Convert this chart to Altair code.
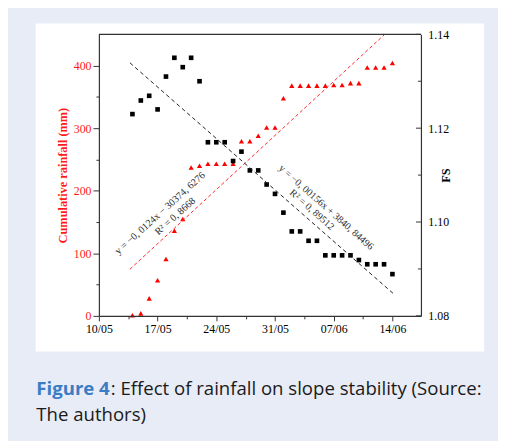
import json
import altair as alt
import numpy as np
import pandas as pd

# ---------------- data ----------------
dates = ["14/05", "15/05", "16/05", "17/05", "18/05", "19/05", "20/05", "21/05",
         "22/05", "23/05", "24/05", "25/05", "26/05", "27/05", "28/05", "29/05",
         "30/05", "31/05", "01/06", "02/06", "03/06", "04/06", "05/06", "06/06",
         "07/06", "08/06", "09/06", "10/06", "11/06", "12/06", "13/06", "14/06"]
rainfall = [1, 4, 28, 57, 91, 136, 155, 237, 240, 243, 243, 243, 243, 279, 279, 288,
            301, 301, 348, 368, 368, 368, 368, 368, 369, 369, 372, 372, 397, 397, 397, 404]
fs = [1.1230, 1.1259, 1.1269, 1.1240, 1.1310, 1.1350, 1.1330, 1.1350, 1.1300, 1.1170,
      1.1170, 1.1170, 1.1130, 1.1150, 1.1110, 1.1110, 1.1080, 1.1060, 1.1020, 1.0980,
      1.0980, 1.0960, 1.0960, 1.0929, 1.0929, 1.0929, 1.0929, 1.0919, 1.0910, 1.0910,
      1.0910, 1.0889]

x_tick_labels = ["10/05", "17/05", "24/05", "31/05", "07/06", "14/06"]
rain_ticks = [0, 50, 100, 150, 200, 250, 300, 350, 400]
fs_major = [1.08, 1.10, 1.12, 1.14]
fs_minor = [1.09, 1.11, 1.13]

red_eq = ["y = \u22120, 0124x \u2212 30374, 6276", "R\u00b2 = 0, 8668"]
red_eq_day = [7.3, 9.1]
red_eq_rain = [164, 159]
black_eq = ["y = \u22120, 00156x + 3840, 84496", "R\u00b2 = 0, 89512"]
black_eq_day = [27.1, 25.4]
black_eq_fs = [1.1031, 1.1026]

caption_bold = "Figure 4"
caption_1 = ": Effect of rainfall on slope stability (Source:"
caption_2 = "The authors)"

# ---------------- derived ----------------
def to_day(s):
    d, m = map(int, s.split("/"))
    return d - 10 if m == 5 else d + 21

days = [to_day(s) for s in dates]
df = pd.DataFrame({"day": days, "rain": rainfall, "fs": fs})

r_slope, r_int = np.polyfit(days, rainfall, 1)
f_slope, f_int = np.polyfit(days, fs, 1)
fit_x = [3.7, 35.3]
red_fit = pd.DataFrame({"day": fit_x, "rain": [r_int + r_slope * v for v in fit_x]})
black_fit = pd.DataFrame({"day": fit_x, "fs": [f_int + f_slope * v for v in fit_x]})

red_txt = pd.DataFrame({"day": red_eq_day, "rain": red_eq_rain, "t": red_eq})
black_txt = pd.DataFrame({"day": black_eq_day, "fs": black_eq_fs, "t": black_eq})

PW, PH = 326, 285
SERIF = "Liberation Serif"
AX = "#333333"

x_vals = [i * 3.5 for i in range(2 * len(x_tick_labels) - 1)]
x_label_expr = ("datum.value % 7 == 0 ? " + json.dumps(x_tick_labels) +
                "[round(datum.value / 7)] : ''")

X = alt.X("day:Q",
          scale=alt.Scale(domain=[0, 38.4], nice=False, zero=False),
          axis=alt.Axis(values=x_vals, labelExpr=x_label_expr, title=None, grid=False,
                        labelFlush=False, labelOverlap=False,
                        tickSize={"condition": {"test": "datum.value % 7 != 0", "value": 3},
                                  "value": 5},
                        labelPadding=3, labelFont=SERIF, labelFontSize=12,
                        labelColor="black", domainColor=AX, tickColor=AX,
                        domainWidth=1.2, tickWidth=1, zindex=1))

Y_RAIN = alt.Y("rain:Q",
               scale=alt.Scale(domain=[0, 450], nice=False, zero=True),
               axis=alt.Axis(orient="left", values=rain_ticks,
                             labelExpr="datum.value % 100 == 0 ? datum.label : ''",
                             tickSize={"condition": {"test": "datum.value % 100 != 0", "value": 3},
                                       "value": 6},
                             grid=False, labelOverlap=False, labelPadding=2,
                             labelFont=SERIF, labelFontSize=12, labelColor="#ff1a1a",
                             title="Cumulative rainfall (mm)", titleFont=SERIF,
                             titleFontSize=12.5, titleFontWeight="bold",
                             titleColor="#ff1a1a", titlePadding=4,
                             domainColor=AX, tickColor=AX, domainWidth=1.2, zindex=1))

Y_FS = alt.Y("fs:Q",
             scale=alt.Scale(domain=[1.08, 1.14], nice=False, zero=False),
             axis=alt.Axis(orient="right", values=fs_major, format=".2f", ticks=False,
                           tickSize=0, grid=False, labelPadding=7, labelFont=SERIF,
                           labelFontSize=12, labelColor="black", title="FS",
                           titleFont=SERIF, titleFontSize=12.5, titleFontWeight="bold",
                           titleColor="black", titleAngle=270, titlePadding=4,
                           domainColor=AX, domainWidth=1.2, zindex=1))

# white panel behind the figure
panel = alt.Chart(pd.DataFrame({"a": [0]})).mark_rect(color="white").encode(
    x=alt.value(-64), x2=alt.value(390), y=alt.value(-11), y2=alt.value(321))

# ---- rainfall layer ----
tri = alt.Chart(df).mark_point(shape="triangle-up", filled=True, color="#ff0000",
                               size=28, opacity=1).encode(x=X, y=Y_RAIN)
red_line = alt.Chart(red_fit).mark_line(color="#ff2a2a", strokeDash=[3.5, 2.5],
                                        strokeWidth=1, clip=True).encode(x=X, y=Y_RAIN)
red_text = alt.Chart(red_txt).mark_text(font=SERIF, fontSize=10.2, color="#2a2a2a",
                                        angle=318, align="center",
                                        baseline="middle").encode(x=X, y=Y_RAIN, text="t:N")
top_rule = alt.Chart(pd.DataFrame({"a": [0]})).mark_rule(color=AX, strokeWidth=1.2).encode(
    x=alt.value(0), x2=alt.value(PW), y=alt.value(0))
red = alt.layer(tri, red_line, red_text, top_rule)

# ---- FS layer ----
sq = alt.Chart(df).mark_square(color="black", size=22, opacity=1).encode(x=X, y=Y_FS)
black_line = alt.Chart(black_fit).mark_line(color="#222222", strokeDash=[4, 3],
                                            strokeWidth=1).encode(x=X, y=Y_FS)
black_text = alt.Chart(black_txt).mark_text(font=SERIF, fontSize=10.2, color="#2a2a2a",
                                            angle=41.5, align="center",
                                            baseline="middle").encode(x=X, y=Y_FS, text="t:N")
fs_tick_major = alt.Chart(pd.DataFrame({"fs": fs_major})).mark_rule(
    color=AX, strokeWidth=1).encode(y=Y_FS, x=alt.value(PW - 5), x2=alt.value(PW))
fs_tick_minor = alt.Chart(pd.DataFrame({"fs": fs_minor})).mark_rule(
    color=AX, strokeWidth=1).encode(y=Y_FS, x=alt.value(PW - 3), x2=alt.value(PW))
black = alt.layer(sq, black_line, black_text, fs_tick_major, fs_tick_minor)

# ---- caption ----
CAP_FONT = "Open Sans"
cap_a = alt.Chart(pd.DataFrame({"t": [caption_bold]})).mark_text(
    font=CAP_FONT, fontSize=18.8, fontWeight="bold", color="#3b7dc4",
    align="left", baseline="alphabetic").encode(
    x=alt.value(-63.3), y=alt.value(365), text="t:N")
cap_b = alt.Chart(pd.DataFrame({"t": [caption_1]})).mark_text(
    font=CAP_FONT, fontSize=18.8, color="#1a1a1a",
    align="left", baseline="alphabetic").encode(
    x=alt.value(12), y=alt.value(365), text="t:N")
cap_c = alt.Chart(pd.DataFrame({"t": [caption_2]})).mark_text(
    font=CAP_FONT, fontSize=18.8, color="#1a1a1a",
    align="left", baseline="alphabetic").encode(
    x=alt.value(-63.3), y=alt.value(391), text="t:N")

chart = alt.layer(panel, red, black, cap_a, cap_b, cap_c).resolve_scale(
    y="independent"
).properties(
    width=PW, height=PH,
    autosize=alt.AutoSizeParams(type="none"),
    padding={"left": 92, "top": 24, "right": 78, "bottom": 124},
    background="#e8ecf6",
).configure_view(stroke=None)

chart.save("out.html", embed_options={"renderer": "svg", "actions": False})
